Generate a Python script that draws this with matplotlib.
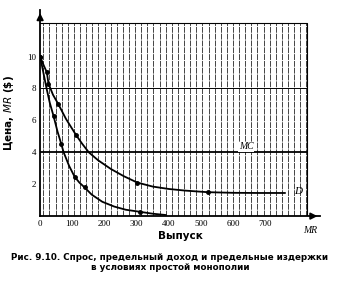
import numpy as np
import matplotlib
matplotlib.use("Agg")
import matplotlib.pyplot as plt

# Demand (D) points
d_q = [0, 10, 21, 26, 40, 57, 80, 111, 130, 151, 180, 220, 260, 302, 350,
       400, 450, 520, 600, 680, 760]
d_p = [10, 9.5, 9, 8.3, 7.6, 7, 6.1, 5.1, 4.55, 4.0, 3.5, 2.95, 2.5, 2.1,
       1.85, 1.7, 1.6, 1.5, 1.46, 1.45, 1.45]
d_mark_q = [0, 21, 26, 57, 111, 302, 520]
d_mark_p = [10, 9, 8.3, 7, 5.1, 2.1, 1.5]

# Marginal revenue (MR)
mr_q = [0, 10, 20, 30, 42, 54, 66, 73, 90, 107, 122, 138, 160, 193, 230,
        266, 310, 350, 390]
mr_p = [10, 9, 8, 7.1, 6.25, 5.3, 4.5, 4.0, 3.15, 2.47, 2.1, 1.8, 1.35,
        0.9, 0.6, 0.4, 0.27, 0.15, 0.07]
mr_mark_q = [0, 42, 66, 107, 138, 310]
mr_mark_p = [10, 6.25, 4.5, 2.47, 1.8, 0.27]

mc_level = 4
x_ticks = [0, 100, 200, 300, 400, 500, 600, 700]
y_ticks = [2, 4, 6, 8, 10]

fig = plt.figure(figsize=(3.4, 2.84), dpi=100)
ax = fig.add_axes([0.118, 0.239, 0.824, 0.725])
ax.set_xlim(0, 870)
ax.set_ylim(0, 12.9)

# shaded (hatched) background
ax.vlines(np.arange(10, 830, 19), 0, 12.1, color="#444444", lw=0.7,
          linestyles=(0, (6, 1)), zorder=0)
ax.plot([0, 828, 828], [12.1, 12.1, 0], color="black", lw=0.8, zorder=1)
ax.hlines(8, 0, 828, color="black", lw=0.7, zorder=1)

ax.plot(d_q, d_p, color="black", lw=1.3, zorder=3)
ax.plot(d_mark_q, d_mark_p, "o", color="black", ms=2.5, zorder=4)
ax.plot(mr_q, mr_p, color="black", lw=1.3, zorder=3)
ax.plot(mr_mark_q, mr_mark_p, "o", color="black", ms=2.5, zorder=4)
ax.hlines(mc_level, 0, 828, color="black", lw=1.3, zorder=3)

ax.text(640, mc_level + 0.35, "MC", fontsize=7, style="italic",
        family="Liberation Serif", ha="center", va="center",
        bbox=dict(fc="white", ec="none", pad=0.5))
ax.text(790, 1.55, "D", fontsize=8, style="italic",
        family="Liberation Serif", ha="left", va="center")
ax.text(840, -0.9, "MR", fontsize=7, style="italic",
        family="Liberation Serif", ha="center", va="center", clip_on=False)

for s in ["top", "right"]:
    ax.spines[s].set_visible(False)
ax.spines["left"].set_linewidth(1.3)
ax.spines["bottom"].set_linewidth(1.3)
ax.annotate("", xy=(0, 12.9), xytext=(0, 12.3),
            arrowprops=dict(arrowstyle="-|>", color="black", lw=1.2))
ax.annotate("", xy=(870, 0), xytext=(840, 0),
            arrowprops=dict(arrowstyle="-|>", color="black", lw=1.2))

ax.set_xticks(x_ticks)
ax.set_xticklabels([str(v) for v in x_ticks], family="Liberation Serif",
                   fontsize=6.5)
ax.set_yticks(y_ticks)
ax.set_yticklabels([str(v) for v in y_ticks], family="Liberation Serif",
                   fontsize=6.5)
ax.tick_params(length=0, pad=3)

ax.set_xlabel("Выпуск", fontsize=7.5, fontweight="bold", labelpad=2)
ax.set_ylabel(r"Цена, $\mathit{MR}$ (\$)", fontsize=7.5, fontweight="bold",
              labelpad=8)

fig.text(0.5, 0.075, "Рис. 9.10. Спрос, предельный доход и предельные издержки\n"
         "в условиях простой монополии", ha="center", va="center",
         fontsize=6.3, fontweight="bold", linespacing=1.1)

fig.savefig("out.png", dpi=100)
